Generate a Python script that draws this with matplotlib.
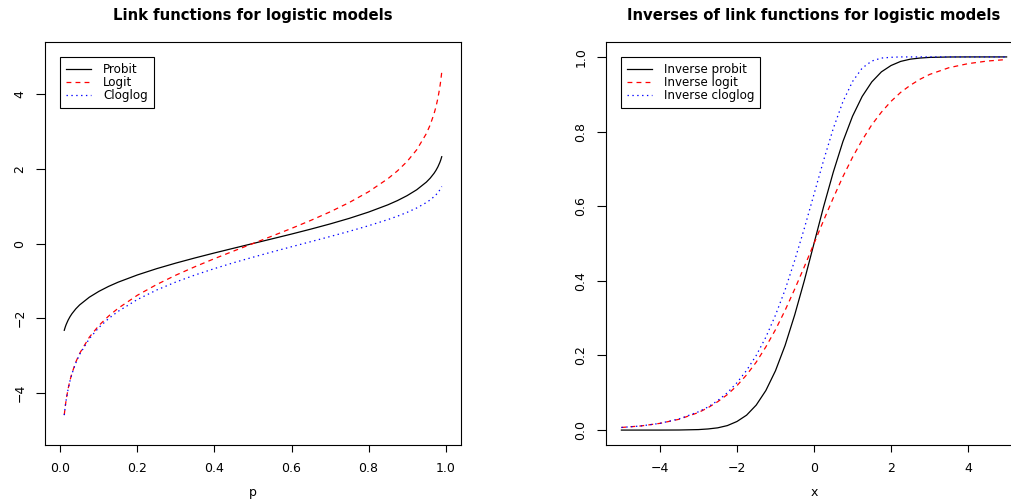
import matplotlib
matplotlib.use("Agg")
import matplotlib.pyplot as plt

plt.rcParams['font.family'] = ['DejaVu Sans']
plt.rcParams['lines.scale_dashes'] = False

# link functions evaluated on a grid of probabilities
p = [0.01, 0.0125, 0.015, 0.02, 0.025, 0.03, 0.04, 0.05, 0.075, 0.1, 0.125, 0.15,
     0.2, 0.25, 0.3, 0.35, 0.4, 0.45, 0.5, 0.55, 0.6, 0.65, 0.7, 0.75, 0.8, 0.85,
     0.875, 0.9, 0.925, 0.95, 0.96, 0.97, 0.975, 0.98, 0.985, 0.9875, 0.99]
probit = [-2.326, -2.241, -2.170, -2.054, -1.960, -1.881, -1.751, -1.645, -1.440,
          -1.282, -1.150, -1.036, -0.842, -0.674, -0.524, -0.385, -0.253, -0.126,
          0.0, 0.126, 0.253, 0.385, 0.524, 0.674, 0.842, 1.036, 1.150, 1.282,
          1.440, 1.645, 1.751, 1.881, 1.960, 2.054, 2.170, 2.241, 2.326]
logit = [-4.595, -4.369, -4.185, -3.892, -3.664, -3.476, -3.178, -2.944, -2.512,
         -2.197, -1.946, -1.735, -1.386, -1.099, -0.847, -0.619, -0.405, -0.201,
         0.0, 0.201, 0.405, 0.619, 0.847, 1.099, 1.386, 1.735, 1.946, 2.197,
         2.512, 2.944, 3.178, 3.476, 3.664, 3.892, 4.185, 4.369, 4.595]
cloglog = [-4.600, -4.376, -4.192, -3.902, -3.676, -3.491, -3.199, -2.970, -2.552,
           -2.250, -2.013, -1.817, -1.500, -1.246, -1.031, -0.842, -0.672, -0.514,
           -0.367, -0.225, -0.087, 0.049, 0.186, 0.327, 0.476, 0.640, 0.732,
           0.834, 0.952, 1.097, 1.169, 1.255, 1.305, 1.364, 1.435, 1.478, 1.527]

# inverse links on the linear predictor scale
x = [-5, -4.5, -4, -3.5, -3, -2.75, -2.5, -2.25, -2, -1.75, -1.5, -1.25, -1,
     -0.75, -0.5, -0.25, 0, 0.25, 0.5, 0.75, 1, 1.25, 1.5, 1.75, 2, 2.25, 2.5,
     2.75, 3, 3.5, 4, 4.5, 5]
inv_probit = [0.0, 0.0, 0.0, 0.0002, 0.0013, 0.003, 0.006, 0.012, 0.023, 0.040,
              0.067, 0.106, 0.159, 0.227, 0.309, 0.401, 0.500, 0.599, 0.691,
              0.773, 0.841, 0.894, 0.933, 0.960, 0.977, 0.988, 0.994, 0.997,
              0.9987, 0.9998, 1.0, 1.0, 1.0]
inv_logit = [0.007, 0.011, 0.018, 0.029, 0.047, 0.060, 0.076, 0.095, 0.119,
             0.148, 0.182, 0.223, 0.269, 0.321, 0.378, 0.438, 0.500, 0.562,
             0.622, 0.679, 0.731, 0.777, 0.818, 0.852, 0.881, 0.905, 0.924,
             0.940, 0.953, 0.971, 0.982, 0.989, 0.993]
inv_cloglog = [0.007, 0.011, 0.018, 0.030, 0.049, 0.062, 0.079, 0.100, 0.127,
               0.160, 0.200, 0.249, 0.308, 0.376, 0.455, 0.541, 0.632, 0.723,
               0.808, 0.880, 0.934, 0.970, 0.989, 0.997, 0.999, 1.0, 1.0, 1.0,
               1.0, 1.0, 1.0, 1.0, 1.0]

left_labels = ['Probit', 'Logit', 'Cloglog']
right_labels = ['Inverse probit', 'Inverse logit', 'Inverse cloglog']

styles = [dict(color='black', linestyle='-'),
          dict(color='red', linestyle=(0, (3.5, 3))),
          dict(color='blue', linestyle=(0, (1, 2.5)))]

fig = plt.figure(figsize=(10.11, 5.0), dpi=100)
ax1 = fig.add_axes([45 / 1011, 55 / 500, 416 / 1011, 403 / 500])
ax2 = fig.add_axes([606 / 1011, 55 / 500, 416 / 1011, 403 / 500])


def style_axes(ax):
    for s in ax.spines.values():
        s.set_linewidth(0.8)
        s.set_color('black')
    ax.tick_params(axis='x', direction='out', length=5, width=0.8, pad=7.5,
                   labelsize=9)
    ax.tick_params(axis='y', direction='out', length=6.5, width=0.8, pad=7,
                   labelsize=9, labelrotation=90)
    for lab in ax.get_yticklabels():
        lab.set_verticalalignment('center')


for ys, lab, st in zip([probit, logit, cloglog], left_labels, styles):
    ax1.plot(p, ys, lw=0.9, label=lab, **st)
ax1.set_xlim(-0.04, 1.04)
ax1.set_ylim(-5.4, 5.4)
ax1.set_xticks([0.0, 0.2, 0.4, 0.6, 0.8, 1.0])
ax1.set_xticklabels(['0.0', '0.2', '0.4', '0.6', '0.8', '1.0'])
ax1.set_yticks([-4, -2, 0, 2, 4])
ax1.set_yticklabels(['\u22124', '\u22122', '0', '2', '4'])
ax1.set_xlabel('p', fontsize=9, labelpad=7.5)
ax1.set_title('Link functions for logistic models', fontsize=10.7,
              fontweight='bold', pad=16)
style_axes(ax1)

for ys, lab, st in zip([inv_probit, inv_logit, inv_cloglog], right_labels, styles):
    ax2.plot(x, ys, lw=0.9, label=lab, **st)
ax2.set_xlim(-5.4, 5.4)
ax2.set_ylim(-0.04, 1.04)
ax2.set_xticks([-4, -2, 0, 2, 4])
ax2.set_xticklabels(['\u22124', '\u22122', '0', '2', '4'])
ax2.set_yticks([0.0, 0.2, 0.4, 0.6, 0.8, 1.0])
ax2.set_yticklabels(['0.0', '0.2', '0.4', '0.6', '0.8', '1.0'])
ax2.set_xlabel('x', fontsize=9, labelpad=7.5)
ax2.set_title('Inverses of link functions for logistic models', fontsize=10.7,
              fontweight='bold', pad=16)
style_axes(ax2)

for ax in (ax1, ax2):
    leg = ax.legend(loc='upper left', bbox_to_anchor=(0.036, 0.963),
                    borderaxespad=0, fontsize=8.6, fancybox=False, framealpha=1,
                    edgecolor='black', labelspacing=0.0, handlelength=2.1,
                    handletextpad=1.0, borderpad=0.5)
    leg.get_frame().set_linewidth(0.8)

fig.savefig('out.png', dpi=100)
